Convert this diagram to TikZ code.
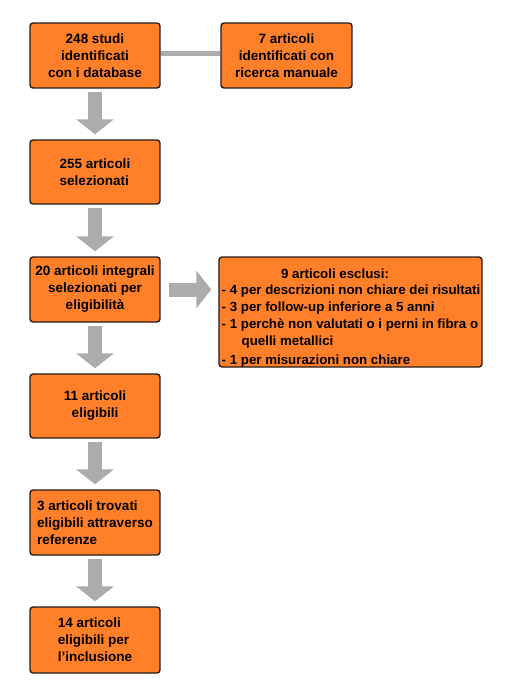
\documentclass[tikz,border=0pt]{standalone}
\usepackage{fontspec}
\setmainfont{Liberation Sans}
\usetikzlibrary{arrows.meta}
\definecolor{boxorange}{RGB}{255,128,40}
\definecolor{arrowgray}{RGB}{172,172,172}
\definecolor{boxborder}{RGB}{35,30,28}
\tikzset{
  box/.style={draw=boxborder, line width=1.4pt, fill=boxorange, rounded corners=3pt,
    inner sep=0pt, font=\bfseries\fontsize{13.5}{17}\selectfont, text=black},
  bigarrow/.style={draw=arrowgray, line width=14pt, -{Triangle[width=37pt,length=15pt]},
    shorten <=3.5pt, shorten >=5pt},
  linkbar/.style={draw=arrowgray, line width=5pt},
  txt/.style={inner sep=0pt, font=\bfseries\fontsize{13.3}{17}\selectfont, text=black}
}
\begin{document}
\begin{tikzpicture}[x=1pt,y=-1pt]
\fill[white] (0,0) rectangle (517,699);
\useasboundingbox (0,0) rectangle (517,699);
% connector between the two top boxes (drawn first, under the borders)
\coordinate (l1) at (160,53.5);
\coordinate (l2) at (221,53.5);
% boxes
\node[box, minimum width=130pt, minimum height=65pt, align=center] (b1) at (95,55.5)
  {248 studi\\identificati\\con i database};
\node[box, minimum width=131pt, minimum height=65pt, align=center] (b2) at (286.5,55.5)
  {7 articoli\\identificati con\\ricerca manuale};
\node[box, minimum width=130pt, minimum height=64pt, align=left] (b3) at (95,172)
  {255 articoli\\selezionati};
\node[box, minimum width=130pt, minimum height=65pt, align=center] (b4) at (95,289.5)
  {20 articoli integrali\\selezionati per\\eligibilità};
\node[box, minimum width=263pt, minimum height=110pt] (b5) at (350.5,312) {};
\node[box, minimum width=130pt, minimum height=64pt, align=center] (b6) at (95,406)
  {11 articoli\\eligibili};
\node[box, minimum width=130pt, minimum height=65pt, align=left] (b7) at (95,522.5)
  {3 articoli trovati\\eligibili attraverso\\referenze};
\node[box, minimum width=130pt, minimum height=66pt, align=left] (b8) at (95,640)
  {14 articoli\\eligibili per\\l'inclusione};
% excluded list text
\node[txt, anchor=base] (t0) at (335,278) {9 articoli esclusi:};
\node[txt, anchor=base west] (t1) at (221.5,294) {- 4 per descrizioni non chiare dei risultati};
\node[txt, anchor=base west] (t2) at (221.5,311) {- 3 per follow-up inferiore a 5 anni};
\node[txt, anchor=base west] (t3) at (221.5,328) {- 1 perchè non valutati o i perni in fibra o};
\node[txt, anchor=base west] (t4) at (241.5,345) {quelli metallici};
\node[txt, anchor=base west] (t5) at (221.5,364) {- 1 per misurazioni non chiare};
% connectors
\draw[bigarrow] (b1.south) -- (b3.north);
\draw[bigarrow] (b3.south) -- (b4.north);
\draw[bigarrow] (b4.south) -- (b6.north);
\draw[bigarrow] (b6.south) -- (b7.north);
\draw[bigarrow] (b7.south) -- (b8.north);
\draw[bigarrow, shorten <=8pt, shorten >=7pt] (b4.east) -- (b4.east -| b5.west);
\draw[linkbar, shorten <=0.7pt, shorten >=0.7pt] ([yshift=2pt]b1.east) -- ([yshift=2pt]b2.west);
\end{tikzpicture}
\end{document}
